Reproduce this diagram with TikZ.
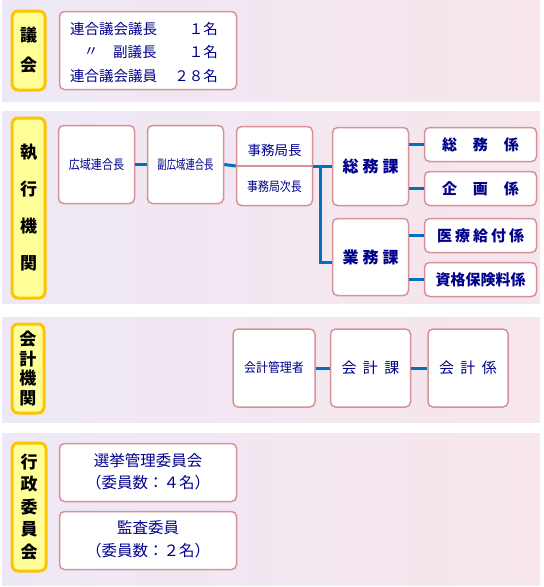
\documentclass[tikz,border=0pt]{standalone}
\usepackage{fontspec}
\usepackage{graphicx}
\setmainfont{Noto Sans CJK JP}
\usetikzlibrary{calc}
\definecolor{navy}{RGB}{0,0,140}
\definecolor{boxline}{RGB}{214,146,150}
\definecolor{lblfill}{RGB}{255,255,153}
\definecolor{lblline}{RGB}{255,196,0}
\definecolor{connc}{RGB}{0,112,192}
\definecolor{bgA}{RGB}{238,232,246}
\definecolor{bgB}{RGB}{247,230,236}
\newcommand\myfs[2]{\fontsize{#1}{#2}\selectfont}
\begin{document}
\begin{tikzpicture}[x=1pt,y=-1pt,
  panel/.style={left color=bgA,right color=bgB},
  lbl/.style={draw=lblline,fill=lblfill,line width=3pt,rounded corners=6pt,inner sep=0pt,align=center,text=black},
  ubox/.style={draw=boxline,fill=white,line width=1.5pt,rounded corners=5pt,inner sep=0pt,align=center,text=navy},
  txt/.style={inner sep=0pt,text=navy},
  conn/.style={draw=connc,line width=3pt}]
\useasboundingbox (0,0) rectangle (544,587);
% panels
\shade[panel] (2,0) rectangle (540,101);
\shade[panel] (2,111) rectangle (540,303);
\shade[panel] (2,317) rectangle (540,422);
\shade[panel] (2,433) rectangle (540,585);

% ---- panel 1
\node[lbl,minimum width=33pt,minimum height=79pt,font={\myfs{17}{30}\bfseries}] (lgikai) at (28.5,50.5) {議\\会};
\node[ubox,minimum width=177pt,minimum height=78pt] (gikai) at (148,50.5) {};
\node[txt,anchor=west] (g1a) at (70,29) {\myfs{14.5}{17}連合議会議長};
\node[txt,anchor=east] (g1b) at (218,29) {\myfs{14.5}{17}１名};
\node[txt] (g2a) at (91,52) {\myfs{14.5}{17}〃};
\node[txt,anchor=west] (g2b) at (113,52) {\myfs{14.5}{17}副議長};
\node[txt,anchor=east] (g2c) at (218,52) {\myfs{14.5}{17}１名};
\node[txt,anchor=west] (g3a) at (70,76) {\myfs{14.5}{17}連合議会議員};
\node[txt,anchor=east] (g3b) at (218,76) {\myfs{14.5}{17}２８名};

% ---- panel 2
\node[lbl,minimum width=33pt,minimum height=180pt,font={\myfs{17}{37}\bfseries}] (lshikkou) at (28.5,208) {執\\行\\機\\関};
\node[ubox,minimum width=76pt,minimum height=78pt] (kouiki) at (96.5,164.5) {\myfs{13}{15}\scalebox{0.85}[1]{広域連合長}};
\node[ubox,minimum width=76pt,minimum height=78pt] (fuku) at (185.5,164.5) {\myfs{13}{15}\scalebox{0.72}[1]{副広域連合長}};
\node[ubox,minimum width=76pt,minimum height=79pt] (jimu) at (274.5,166) {};
\draw[boxline,line width=1.5pt] (jimu.west) -- (jimu.east);
\node[txt] (jimu1) at (274.5,150) {\myfs{13.5}{15}事務局長};
\node[txt] (jimu2) at (274.5,187) {\myfs{13}{15}\scalebox{0.84}[1]{事務局次長}};
\node[ubox,minimum width=76pt,minimum height=78pt] (soumuka) at (370.5,166.5) {\myfs{16}{18}\bfseries 総\hspace{4pt}務\hspace{4pt}課};
\node[ubox,minimum width=76pt,minimum height=77pt] (gyoumuka) at (370.5,257) {\myfs{16}{18}\bfseries 業\hspace{4pt}務\hspace{4pt}課};
\node[ubox,minimum width=112pt,minimum height=34pt] (k1) at (480.5,144.5) {\myfs{15}{17}\bfseries 総\hspace{16pt}務\hspace{16pt}係};
\node[ubox,minimum width=112pt,minimum height=34pt] (k2) at (480.5,188.5) {\myfs{15}{17}\bfseries 企\hspace{16pt}画\hspace{16pt}係};
\node[ubox,minimum width=112pt,minimum height=34pt] (k3) at (480.5,235.5) {\myfs{15}{17}\bfseries 医\hspace{3pt}療\hspace{3pt}給\hspace{3pt}付\hspace{3pt}係};
\node[ubox,minimum width=112pt,minimum height=34pt] (k4) at (480.5,279.5) {\myfs{15}{17}\bfseries 資格保険料係};
\draw[conn] (kouiki.east) -- (fuku.west);
\draw[conn] (fuku.east) -- (jimu.west);
\draw[conn] (jimu.east) -- (jimu.east -| soumuka.west);
\coordinate (trunk) at (320,166);
\coordinate (gyin) at ($(gyoumuka.west)+(0,5)$);
\draw[conn] (trunk) |- (gyin);
\draw[conn] (k1.west -| soumuka.east) -- (k1.west);
\draw[conn] (k2.west -| soumuka.east) -- (k2.west);
\draw[conn] (k3.west -| gyoumuka.east) -- (k3.west);
\draw[conn] (k4.west -| gyoumuka.east) -- (k4.west);

% ---- panel 3
\node[lbl,minimum width=32pt,minimum height=89pt,font={\myfs{17}{19.5}\bfseries}] (lkaikei) at (28,368.5) {会\\計\\機\\関};
\node[ubox,minimum width=82pt,minimum height=78pt] (kanri) at (274,368) {\myfs{13}{15}\scalebox{0.92}[1]{会計管理者}};
\node[ubox,minimum width=80pt,minimum height=78pt] (kaikeika) at (370.5,368) {\myfs{15}{17}会\hspace{6.5pt}計\hspace{6.5pt}課};
\node[ubox,minimum width=80pt,minimum height=78pt] (kaikeikakari) at (468,368) {\myfs{15}{17}会\hspace{6.5pt}計\hspace{6.5pt}係};
\draw[conn] (kanri.east) -- (kaikeika.west);
\draw[conn] (kaikeika.east) -- (kaikeikakari.west);

% ---- panel 4
\node[lbl,minimum width=34pt,minimum height=128pt,font={\myfs{17}{22.5}\bfseries}] (lgyousei) at (29,507) {行\\政\\委\\員\\会};
\node[ubox,minimum width=177pt,minimum height=58pt] (senkyo) at (148,472.5) {};
\node[txt] (senkyo1) at (148,461) {\myfs{15.5}{18}選挙管理委員会};
\node[txt] (senkyo2) at (148,483) {\myfs{15.5}{18}（委員数：４名）};
\node[ubox,minimum width=177pt,minimum height=58pt] (kansa) at (148,540.5) {};
\node[txt] (kansa1) at (148,528) {\myfs{15.5}{18}監査委員};
\node[txt] (kansa2) at (148,551) {\myfs{15.5}{18}（委員数：２名）};
\end{tikzpicture}
\end{document}
